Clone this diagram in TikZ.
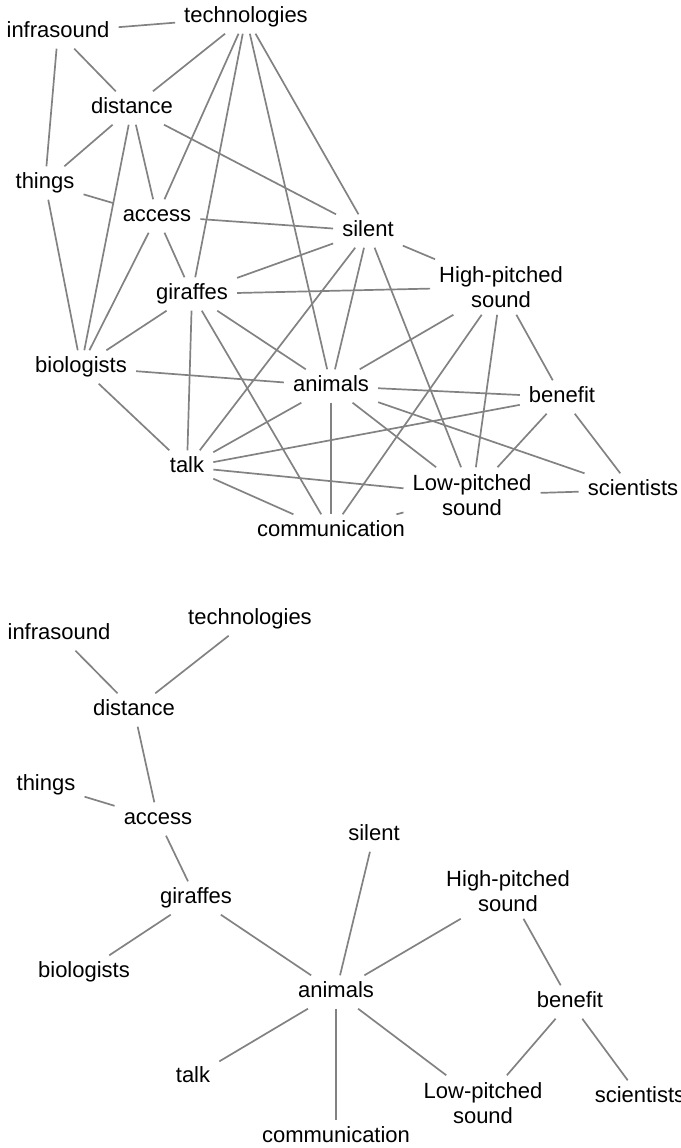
\documentclass[tikz,border=0pt]{standalone}
\usepackage{fontspec}
\setmainfont{Liberation Sans}
\definecolor{edgegray}{RGB}{130,130,130}
\begin{document}
\begin{tikzpicture}[x=1pt,y=-1pt,
  lbl/.style={font=\fontsize{22}{25}\selectfont, text height=15pt, text depth=4pt, inner xsep=9pt, inner ysep=7pt},
  lbltwo/.style={font=\fontsize{22}{25}\selectfont, align=center, inner xsep=9pt, inner ysep=7pt},
  edge/.style={draw=edgegray, line width=1.7pt}]
\useasboundingbox (0,0) rectangle (680,1148);
% ---------- top graph ----------
\node[lbl] (inf) at (58,32) {infrasound};
\node[lbl] (tech) at (246,17) {technologies};
\node[lbl] (dist) at (132,108) {distance};
\node[lbl] (thin) at (45,183) {things};
\node[lbl] (acc) at (157,216) {access};
\node[lbl] (sil) at (368,231) {silent};
\node[lbltwo] (high) at (501,287) {High-pitched\\sound};
\node[lbl] (gir) at (192,294) {giraffes};
\node[lbl] (bio) at (81,367) {biologists};
\node[lbl] (ani) at (331,386) {animals};
\node[lbl] (ben) at (562,397) {benefit};
\node[lbl] (talk) at (187,467) {talk};
\node[lbltwo] (low) at (472,495) {Low-pitched\\sound};
\node[lbl] (sci) at (633,490) {scientists};
\node[lbl] (com) at (331,531) {communication};
\foreach \a/\b in {inf/tech,inf/dist,inf/thin,
  tech/dist,tech/acc,tech/gir,tech/ani,tech/sil,
  dist/thin,dist/acc,dist/bio,dist/sil,
  thin/acc,thin/bio,
  acc/sil,acc/bio,acc/gir,
  sil/high,sil/gir,sil/talk,sil/ani,sil/low,
  gir/high,gir/bio,gir/talk,gir/com,gir/ani,
  bio/ani,bio/talk,
  ani/high,ani/ben,ani/talk,ani/low,ani/sci,ani/com,
  talk/ben,talk/low,talk/com,
  high/com,high/low,high/ben,
  ben/low,ben/sci,
  low/sci,low/com}
  \draw[edge] (\a) -- (\b);
% ---------- bottom graph ----------
\node[lbl] (binf) at (59,634) {infrasound};
\node[lbl] (btech) at (250,619) {technologies};
\node[lbl] (bdist) at (134,710) {distance};
\node[lbl] (bthin) at (46,785) {things};
\node[lbl] (bacc) at (158,819) {access};
\node[lbl] (bsil) at (374,835) {silent};
\node[lbltwo] (bhigh) at (508,891) {High-pitched\\sound};
\node[lbl] (bgir) at (196,898) {giraffes};
\node[lbl] (bbio) at (84,972) {biologists};
\node[lbl] (bani) at (336,992) {animals};
\node[lbl] (bben) at (570,1002) {benefit};
\node[lbl] (btalk) at (193,1077) {talk};
\node[lbltwo] (blow) at (483,1103) {Low-pitched\\sound};
\node[lbl] (bsci) at (640,1097) {scientists};
\node[lbl] (bcom) at (336,1137) {communication};
\foreach \a/\b in {binf/bdist,btech/bdist,bdist/bacc,bthin/bacc,bacc/bgir,
  bgir/bbio,bgir/bani,bsil/bani,bhigh/bani,bhigh/bben,bani/btalk,bani/bcom,
  bani/blow,bben/blow,bben/bsci}
  \draw[edge] (\a) -- (\b);
\end{tikzpicture}
\end{document}
